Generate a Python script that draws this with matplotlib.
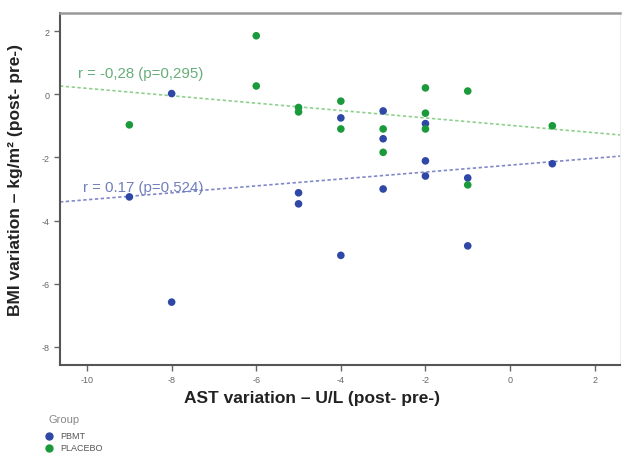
import numpy as np
import matplotlib.pyplot as plt
from matplotlib.lines import Line2D

plt.rcParams['font.family'] = ['Liberation Sans', 'DejaVu Sans']
plt.rcParams['axes.unicode_minus'] = False

# AST variation (U/L) vs BMI variation (kg/m2), post minus pre
pbmt_ast = [-9, -8, -8, -5, -5, -4, -4, -3, -3, -3, -2, -2, -2, -1, -1, 1]
pbmt_bmi = [-3.25, 0.02, -6.58, -3.12, -3.47, -0.75, -5.1, -0.53, -1.41, -3.0,
            -0.93, -2.11, -2.59, -2.65, -4.8, -2.2]
placebo_ast = [-9, -6, -6, -5, -5, -4, -4, -3, -3, -2, -2, -2, -1, -1, 1]
placebo_bmi = [-0.97, 1.85, 0.26, -0.42, -0.56, -0.22, -1.1, -1.1, -1.84,
               0.2, -0.6, -1.1, 0.1, -2.87, -1.0]

groups = ['PBMT', 'PLACEBO']
# fit lines per group: slope, intercept
fit_slope = [0.1095, -0.117]
fit_icpt = [-2.245, -0.985]
fit_labels = ['r = 0.17 (p=0.524)', 'r = -0,28 (p=0,295)']

colors = ['#2f47a6', '#1b9a3c']
fit_colors = ['#8088c8', '#8fd08f']
text_colors = ['#6f7fbb', '#66ad78']

fig = plt.figure(figsize=(6.22, 4.56), dpi=100)
ax = fig.add_axes([60 / 622, 1 - 366 / 456, 560 / 622, 352 / 456])

xlim = (-10.64, 2.6)
ylim = (-8.57, 2.57)
xs = np.array(xlim)

data = [(pbmt_ast, pbmt_bmi), (placebo_ast, placebo_bmi)]
for (x, y), c, fc, m, b in zip(data, colors, fit_colors, fit_slope, fit_icpt):
    ax.plot(xs, m * xs + b, ls=(0, (2, 1.5)), color=fc, lw=1.2, zorder=1)
    ax.scatter(x, y, s=30, color=c, edgecolors='none', zorder=3)

ax.text(-10.1, -3.05, fit_labels[0], color=text_colors[0], fontsize=10.8)
ax.text(-10.21, 0.55, fit_labels[1], color=text_colors[1], fontsize=10.8)

ax.set_xlim(xlim)
ax.set_ylim(ylim)
ax.set_xticks(range(-10, 3, 2))
ax.set_yticks(range(-8, 3, 2))
ax.tick_params(labelsize=6.5, labelcolor='#666666', color='#666666',
               length=4, width=1)

for side in ['left', 'bottom']:
    ax.spines[side].set_color('#555555')
    ax.spines[side].set_linewidth(1.5)
ax.spines['top'].set_color('#999999')
ax.spines['top'].set_linewidth(1.8)
ax.spines['right'].set_color('#eeeeee')

ax.set_xlabel('AST variation \u2013 U/L (post- pre-)', fontsize=12.5,
              fontweight='bold', color='#222222')
ax.set_ylabel('BMI variation \u2013 kg/m\u00b2 (post- pre-)', fontsize=12.5,
              fontweight='bold', color='#222222')
ax.xaxis.set_label_coords(0.45, -0.091)
ax.yaxis.set_label_coords(-0.079, 0.528)
ax.xaxis.label.set_va('center')
ax.yaxis.label.set_va('center')

# group legend below the axes
fig.text(48 / 622, 1 - 420 / 456, 'Group', fontsize=8, color='#888888',
         va='center')
for i, (g, c) in enumerate(zip(groups, colors)):
    yy = 1 - (437 + 12 * i) / 456
    fig.add_artist(Line2D([49 / 622], [yy], marker='o', markersize=5,
                          color=c, linestyle='none',
                          transform=fig.transFigure))
    fig.text(60 / 622, yy, g, fontsize=6.5, color='#555555', va='center')

fig.savefig('out.png', dpi=100)
